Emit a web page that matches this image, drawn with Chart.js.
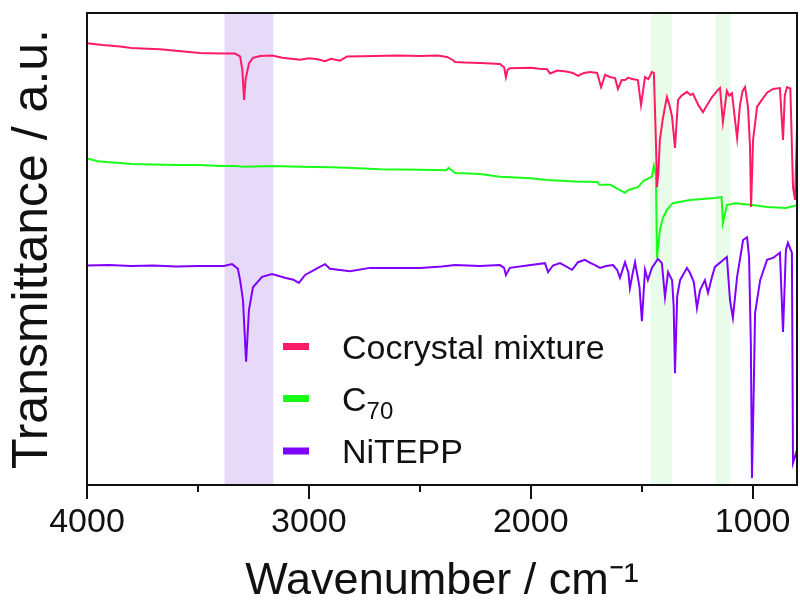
<!DOCTYPE html>
<html>
<head>
<meta charset="utf-8">
<script src="https://cdn.jsdelivr.net/npm/chart.js@4.4.1/dist/chart.umd.min.js"></script>
<style>
  html, body { margin: 0; padding: 0; background: #fff; }
  #wrap { width: 800px; height: 610px; }
</style>
</head>
<body>
<div id="wrap"><canvas id="irChart" width="800" height="610"></canvas></div>
<script>
// FTIR spectra, [wavenumber (cm-1), transmittance (a.u., offset)]
const seriesNames = ['Cocrystal mixture', 'C70', 'NiTEPP'];

const cocrystal = [
  [4000,93.6],[3930,93.2],[3851,92.9],[3800,92.6],[3750,92.5],[3671,92.3],[3600,92.0],
  [3491,91.5],[3400,91.4],[3333,91.4],[3310,90.8],[3300,88.0],[3292,81.6],[3285,86.0],
  [3270,89.3],[3252,90.5],[3220,90.9],[3166,91.0],[3120,90.5],[3080,90.3],[3040,90.1],
  [3000,90.4],[2960,90.2],[2927,89.8],[2900,90.3],[2860,89.9],[2828,90.8],[2700,90.9],
  [2600,91.0],[2500,90.9],[2420,91.0],[2377,90.7],[2350,90.0],[2341,89.6],[2300,89.5],
  [2229,89.4],[2180,89.3],[2139,89.2],[2120,88.5],[2112,86.4],[2104,88.0],[2094,88.3],
  [2000,88.4],[1960,88.2],[1927,88.1],[1913,87.2],[1880,87.8],[1840,87.6],[1810,87.3],
  [1787,86.7],[1760,87.3],[1733,87.5],[1701,87.3],[1683,84.3],[1665,86.9],[1640,86.4],
  [1620,86.2],[1607,83.9],[1590,85.8],[1575,85.8],[1560,86.3],[1544,86.0],[1517,85.8],
  [1503,80.5],[1485,86.4],[1470,86.0],[1454,87.5],[1445,87.3],[1436,73.1],[1431,63.1],
  [1425,66.0],[1418,73.1],[1405,77.5],[1395,80.1],[1386,82.2],[1375,80.5],[1363,78.0],
  [1350,71.4],[1336,81.6],[1320,82.5],[1296,83.3],[1280,82.6],[1269,82.9],[1245,80.5],
  [1224,79.0],[1205,80.5],[1183,82.2],[1160,83.5],[1147,84.1],[1134,76.9],[1116,83.5],
  [1105,82.5],[1093,83.0],[1070,73.5],[1057,80.5],[1045,83.5],[1034,84.3],[1021,80.1],
  [1012,72.0],[1007,58.9],[998,73.1],[980,80.1],[960,81.5],[935,83.1],[908,83.9],
  [877,84.1],[863,73.1],[855,82.5],[845,84.3],[830,84.0],[818,63.1],[809,60.4],[800,75.2]
];

const c70 = [
  [4000,69.2],[3950,68.6],[3900,68.4],[3851,68.2],[3800,68.0],[3700,67.9],[3600,67.8],
  [3491,67.8],[3400,67.6],[3333,67.6],[3290,67.4],[3166,67.6],[3040,67.4],[2900,67.3],
  [2828,67.2],[2679,66.9],[2500,66.8],[2380,66.7],[2370,67.2],[2341,66.1],[2229,65.9],
  [2139,65.3],[2000,65.0],[1927,64.6],[1800,64.3],[1700,64.2],[1690,63.6],[1640,63.6],
  [1610,62.8],[1575,61.9],[1560,62.5],[1517,63.1],[1490,64.5],[1454,65.3],[1445,67.6],
  [1440,66.5],[1436,65.7],[1431,48.1],[1418,54.0],[1405,56.5],[1386,58.3],[1360,59.7],
  [1282,60.4],[1170,60.8],[1140,61.0],[1134,55.5],[1116,59.3],[1080,59.7],[1000,59.3],
  [935,58.9],[850,58.7],[800,59.3]
];

const nitepp = [
  [4000,46.5],[3900,46.6],[3800,46.4],[3700,46.5],[3600,46.3],[3500,46.4],[3383,46.4],
  [3346,46.8],[3320,45.8],[3310,43.4],[3297,39.2],[3283,26.1],[3270,37.1],[3252,41.9],
  [3211,44.1],[3166,44.7],[3108,43.9],[3070,43.5],[3045,42.8],[3017,44.5],[2959,46.0],
  [2927,46.8],[2905,45.8],[2815,45.3],[2725,46.0],[2600,46.0],[2499,46.0],[2400,46.3],
  [2341,46.6],[2229,46.4],[2139,46.6],[2120,46.0],[2112,44.5],[2094,46.0],[2000,46.6],
  [1936,47.0],[1922,45.1],[1900,46.5],[1868,47.0],[1814,45.6],[1787,47.2],[1756,47.7],
  [1730,47.0],[1710,46.6],[1688,46.0],[1660,46.4],[1629,46.6],[1610,45.5],[1598,43.9],
  [1575,47.2],[1560,45.0],[1553,41.7],[1540,45.0],[1530,47.2],[1510,42.0],[1499,34.7],
  [1485,45.6],[1472,43.4],[1454,46.0],[1427,47.9],[1409,47.0],[1395,39.8],[1381,45.1],
  [1363,43.4],[1356,38.0],[1350,23.7],[1340,40.0],[1327,43.4],[1296,46.0],[1282,44.9],
  [1265,43.0],[1251,37.5],[1237,41.3],[1215,43.4],[1201,40.7],[1183,44.1],[1170,46.2],
  [1116,48.3],[1102,39.2],[1089,35.4],[1070,44.1],[1043,51.9],[1025,52.5],[1016,48.3],
  [1008,30.0],[1003,1.5],[995,20.0],[989,36.4],[966,43.4],[935,47.7],[908,48.1],
  [877,49.2],[863,32.4],[850,49.8],[841,51.3],[823,49.2],[818,4.7],[800,7.4]
];

// highlighted wavenumber ranges [from, to]
const purpleBands = [[3380, 3160]];
const greenBands = [[1460, 1365], [1167, 1100]];

const xTicks = [4000, 3500, 3000, 2500, 2000, 1500, 1000];

const colors = ['#ff1a66', '#1aff1a', '#8000ff'];
const FONT = '"Liberation Sans", Arial, sans-serif';

function toXY(arr) {
  return arr.map(p => ({ x: p[0], y: p[1] }));
}

const bandsPlugin = {
  id: 'bands',
  beforeDatasetsDraw(chart) {
    const { ctx, chartArea, scales } = chart;
    const draw = (bands, fill) => {
      bands.forEach(b => {
        const x1 = scales.x.getPixelForValue(b[0]);
        const x2 = scales.x.getPixelForValue(b[1]);
        ctx.fillStyle = fill;
        ctx.fillRect(Math.min(x1, x2), chartArea.top, Math.abs(x2 - x1), chartArea.bottom - chartArea.top);
      });
    };
    ctx.save();
    draw(purpleBands, '#e7d9f8');
    draw(greenBands, '#e9fbe9');
    ctx.restore();
  }
};

const framePlugin = {
  id: 'frame',
  afterDraw(chart) {
    const { ctx, chartArea } = chart;
    const xs = chart.scales.x;
    ctx.save();
    ctx.strokeStyle = '#111';
    ctx.lineWidth = 2;
    ctx.strokeRect(chartArea.left, chartArea.top, chartArea.right - chartArea.left, chartArea.bottom - chartArea.top);
    ctx.beginPath();
    xs.ticks.forEach(t => {
      const px = Math.round(xs.getPixelForValue(t.value));
      const len = t.value % 1000 === 0 ? 14 : 7;
      ctx.moveTo(px, chartArea.bottom);
      ctx.lineTo(px, chartArea.bottom + len);
    });
    ctx.stroke();
    ctx.restore();
  }
};

const legendPlugin = {
  id: 'innerLegend',
  afterDraw(chart) {
    const { ctx, chartArea } = chart;
    const x0 = chartArea.left + 196;
    const rows = [346.5, 398.5, 451];
    ctx.save();
    chart.data.datasets.forEach((ds, i) => {
      const cy = rows[i];
      ctx.fillStyle = ds.borderColor;
      ctx.fillRect(x0, cy - 3.5, 26, 7);
      ctx.fillStyle = '#111';
      ctx.textBaseline = 'alphabetic';
      ctx.font = '34px ' + FONT;
      const tx = x0 + 59;
      if (ds.label === 'C70') {
        ctx.fillText('C', tx, cy + 12);
        const w = ctx.measureText('C').width;
        ctx.font = '24px ' + FONT;
        ctx.fillText('70', tx + w, cy + 20);
      } else {
        ctx.fillText(ds.label, tx, cy + 12);
      }
    });
    ctx.restore();
  }
};

new Chart(document.getElementById('irChart'), {
  type: 'line',
  data: {
    datasets: [
      { label: seriesNames[0], data: toXY(cocrystal), borderColor: colors[0] },
      { label: seriesNames[1], data: toXY(c70), borderColor: colors[1] },
      { label: seriesNames[2], data: toXY(nitepp), borderColor: colors[2] }
    ]
  },
  options: {
    responsive: false,
    animation: false,
    devicePixelRatio: 1,
    layout: { padding: { top: 13, right: 3, left: 0, bottom: 0 } },
    elements: {
      line: { borderWidth: 2, tension: 0, fill: false },
      point: { radius: 0 }
    },
    plugins: {
      legend: { display: false },
      tooltip: { enabled: false }
    },
    scales: {
      x: {
        type: 'linear',
        reverse: true,
        min: 800,
        max: 4000,
        afterBuildTicks(scale) {
          scale.ticks = xTicks.map(v => ({ value: v }));
        },
        afterFit(scale) { scale.height = 125; },
        grid: { display: false, drawTicks: true, tickLength: 14 },
        border: { display: false },
        ticks: {
          padding: 3,
          color: '#111',
          font: { family: FONT, size: 34 },
          maxRotation: 0,
          callback: v => (v % 1000 === 0 ? String(v) : '')
        },
        title: {
          display: true,
          text: 'Wavenumber / cm\u207B\u00B9',
          color: '#111',
          font: { family: FONT, size: 45 },
          padding: { top: 0, bottom: 1 }
        }
      },
      y: {
        min: 0,
        max: 100,
        afterFit(scale) { scale.width = 87; },
        grid: { display: false },
        border: { display: false },
        ticks: { display: false },
        title: {
          display: true,
          text: 'Transmittance / a.u.',
          color: '#111',
          font: { family: FONT, size: 50 },
          padding: { top: 3, bottom: 0 }
        }
      }
    }
  },
  plugins: [bandsPlugin, framePlugin, legendPlugin]
});
</script>
</body>
</html>
